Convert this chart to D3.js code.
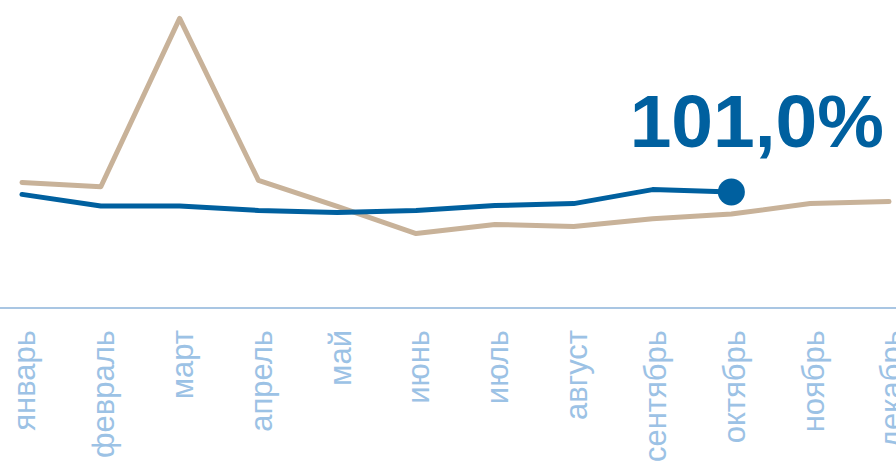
<!DOCTYPE html>
<html>
<head>
<meta charset="utf-8">
<script src="https://cdn.jsdelivr.net/npm/d3@7"></script>
<style>
    body { margin: 0; background: #fff; }
    svg { display: block; font-family: "Liberation Sans", Arial, sans-serif; }
</style>
</head>
<body>
<svg id="chart" width="896" height="461"></svg>
<script>
var months = ["январь", "февраль", "март", "апрель", "май", "июнь", "июль", "август", "сентябрь", "октябрь", "ноябрь", "декабрь"];

// previous year (tan) and current year (blue), %
var prevYear = [103.4, 102.3, 144.4, 103.9, 97.4, 90.6, 92.9, 92.4, 94.3, 95.5, 98.1, 98.6];
var curYear = [100.4, 97.5, 97.5, 96.4, 95.9, 96.4, 97.6, 98.1, 101.6, 101.0];

var lastLabel = "101,0%";

var svg = d3.select("svg#chart");
var width = +svg.attr("width");
var axisY = 308;

var x = d3.scalePoint()
    .domain(months)
    .range([22, 889]);

var y = d3.scaleLinear()
    .domain([72, 149])
    .range([axisY, 0]);

var line = d3.line()
    .x(function(d, i) { return x(months[i]); })
    .y(function(d) { return y(d); });

// axis
var xAxis = svg.append("g")
    .attr("class", "axis axis--x")
    .attr("transform", "translate(0," + axisY + ")")
    .call(d3.axisBottom(x).tickSize(0).tickPadding(0));

xAxis.select(".domain").remove();

svg.append("line")
    .attr("x1", 0)
    .attr("x2", width)
    .attr("y1", axisY)
    .attr("y2", axisY)
    .attr("stroke", "#a9c6e3")
    .attr("stroke-width", 2);

xAxis.selectAll(".tick text")
    .attr("transform", "translate(2,22) rotate(-90)")
    .attr("x", 0)
    .attr("y", 0)
    .attr("dy", "0.35em")
    .style("text-anchor", "end")
    .style("font-size", "31px")
    .style("font-family", "'Liberation Sans', Arial, sans-serif")
    .attr("fill", "#9cc2e5");

// lines
svg.append("path")
    .datum(prevYear)
    .attr("fill", "none")
    .attr("stroke", "#c8b299")
    .attr("stroke-width", 5)
    .attr("stroke-linejoin", "round")
    .attr("stroke-linecap", "round")
    .attr("d", line);

svg.append("path")
    .datum(curYear)
    .attr("fill", "none")
    .attr("stroke", "#00609f")
    .attr("stroke-width", 5)
    .attr("stroke-linejoin", "round")
    .attr("stroke-linecap", "round")
    .attr("d", line);

var li = curYear.length - 1;

svg.append("circle")
    .attr("cx", x(months[li]))
    .attr("cy", y(curYear[li]))
    .attr("r", 13.5)
    .attr("fill", "#00609f");

svg.append("text")
    .attr("x", 884)
    .attr("y", 147)
    .style("text-anchor", "end")
    .style("font-size", "75px")
    .style("font-weight", "bold")
    .attr("fill", "#00609f")
    .text(lastLabel);
</script>
</body>
</html>
